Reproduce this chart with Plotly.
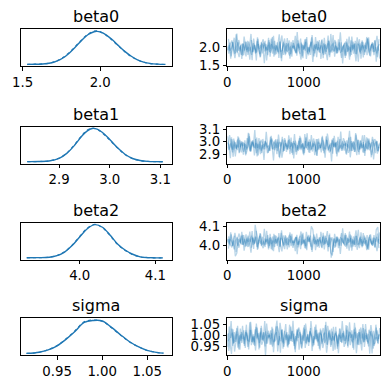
import plotly.graph_objects as go

# ---------------- data ----------------
params = ["beta0", "beta1", "beta2", "sigma"]

draws_c1 = list(range(0, 2000, 20))
draws_c2 = list(range(10, 2000, 20))
draws_c3 = list(range(5, 2000, 20))
draws_c4 = list(range(15, 2000, 20))

# KDE curves (solid = chain 1, dotted = chain 2)
kde_x_beta0 = [1.53, 1.58, 1.63, 1.68, 1.72, 1.76, 1.80, 1.84, 1.88, 1.92, 1.96, 1.98, 2.00,
               2.04, 2.08, 2.12, 2.16, 2.20, 2.24, 2.28, 2.32, 2.37, 2.42]
kde_y_beta0 = [0.02, 0.03, 0.06, 0.15, 0.33, 0.62, 1.07, 1.64, 2.26, 2.79, 3.07, 3.10, 3.05,
               2.76, 2.29, 1.74, 1.21, 0.78, 0.45, 0.24, 0.12, 0.05, 0.02]
kde_y2_beta0 = [0.02, 0.04, 0.07, 0.16, 0.35, 0.66, 1.12, 1.70, 2.31, 2.84, 3.12, 3.14, 3.06,
                2.72, 2.24, 1.70, 1.18, 0.75, 0.43, 0.22, 0.10, 0.04, 0.01]

kde_x_beta1 = [2.837, 2.86, 2.88, 2.90, 2.915, 2.93, 2.945, 2.955, 2.965, 2.975, 2.985, 3.00,
               3.015, 3.03, 3.045, 3.06, 3.075, 3.09, 3.105]
kde_y_beta1 = [0.06, 0.09, 0.26, 1.2, 2.9, 5.6, 8.9, 10.6, 11.5, 11.3, 10.2, 7.7, 4.9, 2.6,
               1.15, 0.44, 0.14, 0.05, 0.02]
kde_y2_beta1 = [0.04, 0.10, 0.30, 1.3, 3.0, 5.8, 9.1, 10.9, 11.6, 11.2, 10.0, 7.5, 4.8, 2.5,
                1.1, 0.42, 0.15, 0.06, 0.03]

kde_x_beta2 = [3.93, 3.945, 3.96, 3.97, 3.98, 3.99, 4.00, 4.01, 4.02, 4.03, 4.04, 4.05, 4.06,
               4.07, 4.08, 4.09, 4.10, 4.11]
kde_y_beta2 = [0.09, 0.15, 0.38, 1.23, 3.2, 6.7, 11.4, 15.9, 18.1, 16.7, 12.5, 7.6, 4.3, 2.0,
               0.6, 0.15, 0.05, 0.03]
kde_y2_beta2 = [0.08, 0.17, 0.42, 1.3, 3.4, 6.9, 11.7, 16.2, 18.3, 16.5, 12.2, 7.4, 4.1, 1.8,
                0.55, 0.14, 0.06, 0.03]

kde_x_sigma = [0.916, 0.93, 0.94, 0.95, 0.96, 0.97, 0.98, 0.99, 1.00, 1.01, 1.02, 1.03, 1.04,
               1.05, 1.06, 1.068]
kde_y_sigma = [0.15, 0.71, 1.78, 3.7, 6.8, 10.5, 14.6, 15.5, 15.3, 12.4, 9.0, 5.7, 3.3, 1.55,
               0.65, 0.3]
kde_y2_sigma = [0.12, 0.68, 1.85, 3.8, 7.0, 10.8, 14.9, 15.7, 15.1, 12.2, 8.8, 5.6, 3.3, 1.5,
                0.62, 0.25]

# Trace samples (every 20th draw of each of four chains)
trace_beta0_c1 = [2.01, 1.82, 2.08, 2.17, 1.92, 1.70, 1.99, 2.12, 1.88, 2.04,
                  1.77, 2.27, 2.00, 1.86, 2.14, 1.96, 1.79, 2.09, 2.03, 1.64,
                  2.21, 1.94, 2.05, 1.83, 2.11, 1.98, 1.90, 2.24, 1.74, 2.07,
                  1.95, 2.16, 1.81, 2.03, 2.33, 1.87, 1.91, 2.13, 1.78, 2.01,
                  2.09, 1.69, 1.99, 2.18, 1.92, 1.85, 2.08, 1.96, 2.22, 1.75,
                  2.04, 1.90, 2.26, 1.82, 2.00, 2.12, 1.60, 2.05, 1.94, 2.16,
                  1.86, 1.98, 2.20, 1.79, 2.07, 1.95, 2.30, 1.73, 2.01, 2.09,
                  1.88, 2.14, 1.83, 1.92, 2.38, 1.87, 2.03, 1.77, 2.11, 1.99,
                  1.66, 2.17, 1.91, 2.08, 1.81, 2.25, 1.96, 1.86, 2.13, 1.72,
                  2.05, 1.94, 2.21, 1.85, 2.00, 2.12, 1.78, 2.04, 2.29, 1.90]
trace_beta0_c2 = [1.91, 2.11, 1.75, 2.03, 2.24, 1.95, 1.85, 2.18, 2.01, 1.68,
                  2.08, 1.90, 2.13, 1.79, 1.99, 2.34, 1.86, 2.04, 1.82, 2.16,
                  1.96, 1.72, 2.09, 2.20, 1.88, 2.00, 1.78, 2.12, 1.94, 2.26,
                  1.74, 2.05, 1.98, 1.83, 2.14, 1.62, 2.07, 2.22, 1.92, 1.87,
                  2.17, 1.81, 2.03, 1.95, 2.29, 1.77, 2.09, 1.91, 2.11, 1.70,
                  2.01, 2.21, 1.86, 1.99, 1.79, 2.31, 1.90, 2.08, 1.73, 2.13,
                  1.94, 2.04, 1.83, 2.24, 1.88, 1.65, 2.16, 2.00, 1.85, 2.07,
                  2.18, 1.82, 1.98, 1.92, 2.12, 1.56, 2.05, 2.14, 1.87, 2.03,
                  1.75, 2.27, 1.95, 2.09, 1.81, 2.01, 2.20, 1.69, 2.04, 1.96,
                  2.11, 1.78, 2.25, 1.90, 2.08, 1.86, 2.17, 1.61, 2.00, 2.07]
trace_beta0_c3 = [1.91, 2.05, 1.69, 2.13, 1.95, 1.83, 2.35, 1.90, 2.01, 1.79,
                  2.09, 1.97, 1.75, 2.16, 1.88, 2.00, 1.65, 2.22, 1.94, 1.86,
                  2.07, 1.81, 2.12, 2.03, 1.57, 2.08, 1.92, 2.18, 1.84, 1.96,
                  2.29, 1.78, 2.04, 1.87, 2.14, 1.70, 1.99, 2.09, 1.82, 2.23,
                  1.90, 2.01, 1.74, 2.10, 1.95, 1.83, 2.17, 1.91, 1.66, 2.05,
                  1.94, 2.13, 1.87, 1.78, 2.03, 2.25, 1.96, 1.83, 2.07, 1.91,
                  2.18, 1.68, 1.95, 2.09, 1.81, 1.99, 2.16, 1.86, 1.92, 2.31,
                  1.74, 2.01, 1.90, 2.12, 1.84, 1.97, 2.05, 1.71, 2.21, 1.88,
                  2.00, 1.79, 2.14, 1.92, 1.62, 2.08, 2.04, 1.82, 2.17, 1.94,
                  1.86, 2.26, 1.96, 1.77, 2.03, 2.10, 1.87, 1.99, 1.73, 2.20]
trace_beta0_c4 = [2.21, 1.90, 1.97, 2.12, 1.81, 2.33, 1.88, 1.73, 2.03, 2.08,
                  1.78, 2.14, 1.92, 2.00, 1.66, 2.18, 1.86, 2.04, 1.84, 2.25,
                  1.94, 1.74, 2.09, 1.96, 2.16, 1.64, 2.05, 1.87, 2.22, 1.82,
                  2.01, 1.91, 2.12, 1.71, 2.07, 2.30, 1.79, 1.95, 2.10, 1.88,
                  1.77, 2.13, 1.97, 2.03, 1.83, 2.39, 1.90, 1.81, 2.08, 1.92,
                  2.20, 1.68, 2.00, 1.86, 2.14, 1.94, 1.75, 2.26, 1.91, 1.99,
                  1.84, 2.17, 1.70, 2.05, 1.87, 2.09, 1.78, 2.34, 1.95, 1.88,
                  2.04, 1.84, 2.20, 1.92, 1.71, 2.00, 2.10, 1.77, 1.94, 2.27,
                  1.87, 2.05, 1.82, 2.16, 1.96, 1.61, 2.09, 1.91, 2.13, 1.79,
                  1.99, 2.23, 1.86, 1.75, 2.07, 1.95, 2.17, 1.83, 2.01, 1.69]

trace_beta1_c1 = [2.993, 2.975, 2.867, 3.022, 2.936, 2.997, 2.946, 3.044, 2.914, 3.004,
                  2.964, 2.986, 2.889, 3.029, 2.979, 2.921, 3.000, 2.961, 3.095, 2.907,
                  2.982, 2.939, 3.015, 2.990, 2.853, 3.008, 2.954, 2.968, 2.925, 3.026,
                  2.993, 2.932, 2.975, 3.018, 2.878, 2.943, 3.040, 2.928, 2.986, 2.957,
                  3.011, 2.900, 2.997, 2.946, 3.062, 2.918, 2.972, 2.936, 3.033, 2.979,
                  2.892, 3.004, 2.950, 3.000, 2.910, 3.054, 2.961, 2.982, 2.921, 3.022,
                  2.939, 2.954, 3.036, 2.993, 2.871, 3.015, 2.928, 2.968, 2.990, 2.903,
                  3.047, 2.957, 3.008, 2.914, 2.975, 2.943, 3.029, 3.000, 2.896, 2.964,
                  3.088, 2.925, 2.986, 2.936, 3.069, 2.972, 2.918, 3.011, 2.946, 2.997,
                  2.885, 2.979, 3.026, 2.932, 2.961, 3.040, 2.982, 2.907, 3.004, 2.950]
trace_beta1_c2 = [2.946, 3.054, 2.986, 2.914, 3.008, 2.975, 2.932, 3.033, 2.957, 2.990,
                  2.896, 3.011, 2.936, 2.964, 3.044, 2.921, 2.997, 2.950, 3.022, 2.882,
                  2.972, 3.004, 2.910, 2.982, 2.939, 3.080, 2.954, 2.928, 3.015, 2.943,
                  3.000, 2.979, 2.900, 3.058, 2.961, 2.993, 2.918, 3.029, 2.968, 2.936,
                  3.018, 2.957, 2.990, 2.864, 3.008, 2.975, 2.925, 3.047, 2.946, 2.986,
                  2.907, 3.036, 2.964, 2.997, 2.932, 2.954, 3.026, 2.972, 2.889, 3.000,
                  2.979, 2.914, 3.011, 2.950, 2.939, 3.065, 2.982, 2.921, 3.018, 2.961,
                  2.993, 2.903, 3.040, 2.946, 2.968, 3.004, 2.928, 2.990, 2.957, 3.033,
                  2.874, 2.982, 3.000, 2.918, 2.964, 3.015, 2.936, 2.975, 3.051, 2.910,
                  2.986, 2.943, 3.008, 2.972, 2.892, 2.954, 3.022, 2.997, 2.925, 2.979]
trace_beta1_c3 = [3.044, 2.932, 2.986, 2.936, 3.026, 2.882, 2.975, 2.954, 3.015, 2.914,
                  2.997, 2.982, 2.900, 2.943, 3.065, 2.921, 3.008, 2.968, 2.946, 3.033,
                  2.889, 2.979, 2.928, 3.022, 2.961, 2.993, 2.907, 2.936, 3.040, 2.972,
                  2.848, 3.011, 2.950, 3.000, 2.867, 2.964, 3.018, 2.925, 2.990, 2.939,
                  3.051, 2.957, 2.910, 3.004, 2.975, 2.896, 2.954, 3.029, 2.932, 2.986,
                  2.943, 2.961, 3.069, 2.914, 3.000, 2.939, 2.990, 2.892, 3.022, 2.932,
                  2.972, 2.950, 3.047, 2.907, 2.957, 3.015, 2.936, 2.975, 2.841, 3.029,
                  2.954, 2.997, 2.921, 2.946, 3.083, 2.928, 2.982, 2.968, 3.011, 2.910,
                  2.943, 3.004, 2.961, 2.918, 3.058, 2.993, 2.896, 3.008, 2.950, 2.979,
                  2.925, 3.036, 2.939, 2.990, 2.874, 3.018, 2.964, 3.000, 2.903, 2.957]
trace_beta1_c4 = [2.936, 2.957, 3.036, 2.878, 2.975, 2.943, 3.018, 2.907, 2.968, 3.000,
                  2.918, 2.979, 2.946, 3.072, 2.928, 2.961, 3.011, 2.889, 2.990, 2.950,
                  3.029, 2.900, 2.972, 2.939, 3.004, 2.982, 2.910, 2.964, 3.047, 2.936,
                  2.957, 3.022, 2.925, 2.986, 2.997, 2.871, 2.954, 3.015, 2.918, 2.975,
                  2.943, 3.033, 2.896, 2.990, 2.968, 2.932, 3.008, 2.946, 2.979, 2.903,
                  3.062, 2.954, 2.936, 3.018, 2.972, 2.921, 3.000, 2.961, 2.885, 3.026,
                  2.950, 2.993, 2.928, 2.964, 3.044, 2.982, 2.914, 2.939, 3.011, 2.957,
                  2.990, 2.882, 2.950, 3.022, 2.928, 2.961, 3.004, 2.903, 2.979, 2.946,
                  3.040, 2.925, 3.000, 2.972, 2.892, 3.015, 2.939, 2.986, 2.914, 3.054,
                  2.964, 2.932, 3.026, 2.954, 2.997, 2.856, 2.982, 3.008, 2.921, 2.993]

trace_beta2_c1 = [4.014, 4.047, 4.003, 3.988, 4.030, 4.067, 4.019, 3.997, 4.036, 4.010,
                  4.056, 3.970, 4.017, 4.041, 3.992, 4.023, 4.052, 4.001, 4.012, 4.078,
                  3.981, 4.028, 4.008, 4.045, 3.999, 4.021, 4.034, 3.977, 4.061, 4.006,
                  4.025, 3.990, 4.050, 4.012, 3.962, 4.039, 4.032, 3.995, 4.054, 4.014,
                  4.001, 4.069, 4.019, 3.986, 4.030, 4.043, 4.003, 4.023, 3.979, 4.058,
                  4.010, 4.034, 3.973, 4.047, 4.017, 4.102, 4.085, 4.008, 4.028, 3.990,
                  4.041, 4.021, 3.984, 4.052, 4.006, 4.025, 3.966, 4.063, 3.932, 4.001,
                  4.036, 3.992, 4.045, 4.030, 3.953, 4.039, 4.012, 4.056, 3.999, 4.019,
                  4.074, 3.988, 4.032, 4.003, 4.050, 3.975, 4.023, 4.041, 3.995, 4.065,
                  4.008, 4.028, 3.981, 4.043, 4.017, 3.997, 4.054, 4.010, 3.968, 4.034]
trace_beta2_c2 = [4.032, 3.999, 4.058, 4.012, 3.977, 4.025, 4.043, 3.986, 4.014, 4.072,
                  4.003, 4.034, 3.995, 4.052, 4.019, 3.959, 4.041, 4.010, 4.047, 3.990,
                  4.023, 4.065, 4.001, 3.984, 4.036, 4.017, 4.054, 3.997, 4.028, 3.973,
                  4.061, 4.008, 4.021, 4.045, 3.992, 4.080, 4.006, 3.979, 4.030, 4.039,
                  3.988, 4.050, 4.012, 4.025, 3.968, 4.056, 4.001, 4.032, 3.999, 4.067,
                  4.014, 3.981, 4.041, 4.019, 4.052, 3.964, 4.034, 4.003, 4.063, 3.995,
                  4.028, 4.010, 4.045, 3.977, 4.036, 4.076, 3.990, 4.017, 4.043, 4.006,
                  3.986, 4.047, 4.021, 4.030, 3.997, 4.091, 4.008, 3.992, 4.039, 4.012,
                  4.058, 3.970, 4.025, 4.001, 4.050, 4.014, 3.984, 4.069, 4.010, 4.023,
                  3.999, 4.054, 3.975, 4.034, 4.003, 4.041, 3.988, 4.083, 4.098, 4.006]
trace_beta2_c3 = [4.032, 4.008, 4.069, 3.995, 4.025, 3.940, 3.957, 4.034, 4.014, 4.052,
                  4.001, 4.021, 4.058, 3.990, 4.036, 4.017, 4.076, 3.979, 4.110, 4.041,
                  4.006, 4.050, 3.997, 4.012, 4.089, 4.003, 4.030, 3.986, 4.043, 4.023,
                  3.968, 4.054, 4.010, 4.039, 3.992, 4.067, 4.019, 4.001, 4.047, 3.977,
                  4.034, 4.014, 4.061, 3.999, 4.025, 4.045, 3.988, 4.032, 4.074, 4.008,
                  4.028, 3.995, 4.039, 4.054, 4.012, 3.975, 4.023, 4.045, 4.006, 4.032,
                  3.986, 4.072, 4.025, 4.001, 4.050, 4.019, 3.990, 4.041, 4.030, 3.964,
                  4.061, 4.014, 4.034, 3.997, 4.043, 4.021, 4.008, 4.065, 3.981, 4.036,
                  4.017, 4.052, 3.992, 4.030, 4.080, 4.003, 4.010, 4.047, 3.988, 4.028,
                  4.041, 3.973, 4.023, 4.056, 4.012, 3.999, 4.039, 4.019, 4.063, 3.984]
trace_beta2_c4 = [3.981, 4.034, 4.021, 3.997, 4.050, 3.962, 4.036, 4.063, 4.012, 4.003,
                  4.054, 3.992, 4.030, 4.017, 4.074, 3.986, 4.041, 4.010, 4.043, 3.975,
                  4.028, 4.061, 4.001, 4.023, 3.990, 4.078, 4.008, 4.039, 3.979, 4.047,
                  4.014, 4.032, 3.997, 4.065, 4.006, 3.966, 4.052, 4.025, 3.999, 4.036,
                  4.056, 3.995, 4.021, 4.012, 4.045, 3.951, 4.034, 4.050, 4.003, 4.030,
                  3.984, 4.072, 4.017, 4.041, 3.992, 4.028, 4.058, 3.973, 4.032, 4.019,
                  4.043, 3.988, 4.067, 4.008, 4.039, 4.001, 4.054, 3.959, 3.944, 4.036,
                  4.010, 4.043, 3.984, 4.030, 4.065, 4.017, 3.999, 4.056, 4.028, 3.970,
                  4.039, 4.008, 4.047, 3.990, 4.023, 4.083, 4.001, 4.032, 3.995, 4.052,
                  4.019, 3.977, 4.041, 4.058, 4.006, 4.025, 3.988, 4.045, 4.014, 4.069]

trace_sigma_c1 = [1.008, 0.930, 0.979, 1.031, 0.963, 0.987, 1.018, 0.945, 1.000, 0.976,
                  1.044, 0.961, 1.015, 0.995, 0.937, 1.026, 0.971, 1.005, 0.953, 1.054,
                  0.989, 0.966, 1.034, 0.982, 1.013, 0.911, 1.002, 1.021, 0.958, 1.010,
                  0.969, 0.984, 1.041, 0.927, 0.997, 0.974, 1.028, 0.948, 0.992, 1.015,
                  0.956, 1.000, 0.976, 1.067, 0.963, 0.987, 1.023, 0.935, 1.008, 0.979,
                  1.036, 0.943, 0.995, 0.971, 1.018, 1.002, 0.950, 0.989, 1.049, 0.969,
                  0.984, 1.031, 0.961, 1.005, 1.013, 0.922, 0.982, 1.026, 0.956, 0.997,
                  0.974, 1.039, 0.940, 1.008, 0.992, 0.966, 1.021, 0.976, 1.000, 0.945,
                  1.060, 0.982, 0.969, 1.028, 0.995, 0.958, 1.015, 0.987, 0.932, 1.034,
                  0.979, 1.010, 0.963, 0.989, 1.047, 1.002, 0.953, 0.971, 1.023, 0.984]
trace_sigma_c2 = [0.974, 0.987, 1.065, 0.953, 1.015, 0.971, 1.008, 0.937, 1.031, 0.966,
                  0.995, 0.979, 1.049, 0.948, 0.984, 1.026, 0.969, 0.997, 0.932, 1.036,
                  0.982, 1.013, 0.958, 0.976, 1.066, 0.963, 1.002, 0.992, 1.023, 0.950,
                  0.974, 1.018, 1.068, 0.956, 1.057, 1.010, 0.940, 1.021, 0.979, 1.000,
                  0.961, 1.041, 0.971, 1.008, 0.924, 1.028, 0.989, 1.015, 0.945, 0.984,
                  1.047, 0.966, 1.005, 0.969, 1.034, 0.930, 0.997, 0.982, 1.026, 0.953,
                  1.013, 1.002, 0.943, 0.974, 1.062, 0.958, 1.021, 0.992, 0.976, 1.039,
                  0.935, 1.000, 0.963, 1.031, 0.987, 1.010, 0.948, 0.969, 1.044, 0.995,
                  0.956, 1.023, 0.979, 1.015, 0.919, 0.989, 1.028, 0.961, 1.008, 0.971,
                  1.052, 0.984, 0.950, 1.018, 0.997, 0.940, 0.982, 1.036, 0.966, 1.005]
trace_sigma_c3 = [0.948, 1.041, 0.989, 1.013, 0.966, 0.982, 1.034, 0.995, 0.935, 1.015,
                  1.000, 0.953, 1.023, 0.979, 0.971, 1.062, 1.002, 0.958, 1.028, 0.987,
                  1.010, 0.945, 1.044, 0.976, 0.992, 1.018, 0.963, 1.008, 0.984, 1.039,
                  0.924, 1.002, 1.015, 0.956, 0.989, 1.026, 0.969, 0.997, 1.052, 0.950,
                  1.005, 0.974, 1.021, 0.995, 0.937, 0.982, 1.031, 1.013, 0.961, 1.000,
                  0.976, 1.054, 1.005, 0.953, 1.021, 0.997, 0.966, 1.039, 0.984, 1.008,
                  0.940, 1.023, 0.969, 0.989, 1.047, 0.958, 1.013, 0.979, 1.031, 0.930,
                  0.995, 1.018, 0.950, 1.002, 0.971, 1.066, 0.982, 0.963, 1.026, 0.974,
                  1.015, 1.000, 0.943, 1.057, 0.987, 1.010, 0.956, 1.036, 0.992, 0.969,
                  1.028, 0.984, 1.008, 0.917, 1.021, 0.997, 0.961, 1.049, 0.976, 1.005]
trace_sigma_c4 = [1.010, 0.966, 0.916, 1.028, 0.927, 0.974, 1.044, 0.963, 1.005, 0.984,
                  1.023, 0.943, 1.013, 0.976, 1.060, 0.956, 0.995, 0.969, 1.039, 1.000,
                  0.937, 1.018, 0.979, 1.015, 0.950, 1.054, 0.987, 1.002, 0.958, 1.031,
                  0.971, 0.982, 1.041, 1.010, 0.922, 1.026, 0.963, 0.992, 1.008, 0.945,
                  1.049, 0.984, 1.021, 0.953, 0.997, 0.974, 1.036, 1.015, 0.940, 0.989,
                  1.028, 0.961, 1.005, 0.969, 1.065, 0.995, 0.956, 1.023, 0.976, 1.013,
                  0.932, 1.000, 1.034, 0.966, 0.987, 1.044, 1.002, 0.948, 1.018, 0.979,
                  1.010, 0.997, 0.919, 1.031, 0.969, 1.013, 0.976, 1.047, 0.953, 1.018,
                  0.989, 1.005, 0.935, 1.036, 1.000, 0.958, 1.015, 0.987, 1.052, 0.948,
                  1.002, 0.971, 1.026, 1.008, 0.918, 1.021, 0.982, 0.992, 0.961, 1.034]

# tick labels
value_ticks_beta0 = ["1.5", "2.0"]
value_ticks_beta1 = ["2.9", "3.0", "3.1"]
value_ticks_beta2 = ["4.0", "4.1"]
value_ticks_sigma = ["0.95", "1.00", "1.05"]
draw_ticks = ["0", "1000"]

# value axis ranges (as shown in the reference)
range_beta0 = [1.488, 2.462]
range_beta1 = [2.824, 3.123]
range_beta2 = [3.922, 4.122]
range_sigma = [0.9095, 1.0775]
draw_range = [0, 1999]

# ---------------- assembly ----------------
panels = {
    "beta0": (kde_x_beta0, kde_y_beta0, kde_y2_beta0,
              [trace_beta0_c1, trace_beta0_c2, trace_beta0_c3, trace_beta0_c4], value_ticks_beta0, range_beta0),
    "beta1": (kde_x_beta1, kde_y_beta1, kde_y2_beta1,
              [trace_beta1_c1, trace_beta1_c2, trace_beta1_c3, trace_beta1_c4], value_ticks_beta1, range_beta1),
    "beta2": (kde_x_beta2, kde_y_beta2, kde_y2_beta2,
              [trace_beta2_c1, trace_beta2_c2, trace_beta2_c3, trace_beta2_c4], value_ticks_beta2, range_beta2),
    "sigma": (kde_x_sigma, kde_y_sigma, kde_y2_sigma,
              [trace_sigma_c1, trace_sigma_c2, trace_sigma_c3, trace_sigma_c4], value_ticks_sigma, range_sigma),
}
draws = [draws_c1, draws_c2, draws_c3, draws_c4]

W = H = 389
C0 = "#1f77b4"
FONT = "DejaVu Sans"
TICK_SIZE = 13.3
TITLE_SIZE = 16

col_px = [(20.7, 172.0), (227.3, 380.0)]
row_top_px = [29.3, 126.5, 222.6, 318.4]
row_h_px = 37.0

fig = go.Figure()
layout = {}
annotations = []


def ax_common():
    return dict(
        showline=True, mirror=True, linecolor="black", linewidth=1,
        showgrid=False, zeroline=False, automargin=False,
        ticks="outside", ticklen=3.5, tickwidth=1, tickcolor="black",
        tickfont=dict(family=FONT, size=TICK_SIZE, color="black"),
    )


for r, p in enumerate(params):
    kx, ky, ky2, chains, vticks, vrange = panels[p]
    top = row_top_px[r]
    bot = top + row_h_px
    ydom = [1 - bot / H, 1 - top / H]
    tvals = [float(t) for t in vticks]

    # left: KDE
    n = 2 * r + 1
    xa = "xaxis" if n == 1 else f"xaxis{n}"
    ya = "yaxis" if n == 1 else f"yaxis{n}"
    xr = "x" if n == 1 else f"x{n}"
    yr = "y" if n == 1 else f"y{n}"
    ymax = max(max(ky), max(ky2))
    layout[xa] = dict(ax_common(), domain=[col_px[0][0] / W, col_px[0][1] / W], anchor=yr,
                      range=vrange, tickvals=tvals, ticktext=vticks)
    layout[ya] = dict(ax_common(), domain=ydom, anchor=xr, range=[-0.05 * ymax, 1.05 * ymax],
                      showticklabels=False, ticks="")
    fig.add_trace(go.Scatter(x=kx, y=ky2, mode="lines", xaxis=xr, yaxis=yr,
                             line=dict(color=C0, width=1.2, dash="dot", shape="spline"),
                             showlegend=False, hoverinfo="skip"))
    fig.add_trace(go.Scatter(x=kx, y=ky, mode="lines", xaxis=xr, yaxis=yr,
                             line=dict(color=C0, width=1.4, shape="spline"),
                             showlegend=False, hoverinfo="skip"))
    annotations.append(dict(text=p, xref="paper", yref="paper",
                            x=(col_px[0][0] + col_px[0][1]) / 2 / W, y=ydom[1],
                            xanchor="center", yanchor="bottom", yshift=1, showarrow=False,
                            font=dict(family=FONT, size=TITLE_SIZE, color="black")))

    # right: trace
    n = 2 * r + 2
    xa = f"xaxis{n}"
    ya = f"yaxis{n}"
    xr = f"x{n}"
    yr = f"y{n}"
    layout[xa] = dict(ax_common(), domain=[col_px[1][0] / W, col_px[1][1] / W], anchor=yr,
                      range=draw_range, tickvals=[float(t) for t in draw_ticks], ticktext=draw_ticks)
    layout[ya] = dict(ax_common(), domain=ydom, anchor=xr, range=vrange,
                      tickvals=tvals, ticktext=vticks)
    for dx, ch in zip(draws, chains):
        fig.add_trace(go.Scatter(x=dx, y=ch, mode="lines", xaxis=xr, yaxis=yr,
                                 line=dict(color=C0, width=1.3), opacity=0.3,
                                 showlegend=False, hoverinfo="skip"))
    annotations.append(dict(text=p, xref="paper", yref="paper",
                            x=(col_px[1][0] + col_px[1][1]) / 2 / W, y=ydom[1],
                            xanchor="center", yanchor="bottom", yshift=1, showarrow=False,
                            font=dict(family=FONT, size=TITLE_SIZE, color="black")))

fig.update_layout(
    width=W, height=H,
    margin=dict(l=0, r=0, t=0, b=0, autoexpand=False),
    paper_bgcolor="white", plot_bgcolor="white",
    showlegend=False,
    annotations=annotations,
    font=dict(family=FONT, color="black"),
    **layout,
)

fig.write_html("out.html", config={"displayModeBar": False},
               post_script="document.body.style.margin='0';document.body.style.padding='0';")
